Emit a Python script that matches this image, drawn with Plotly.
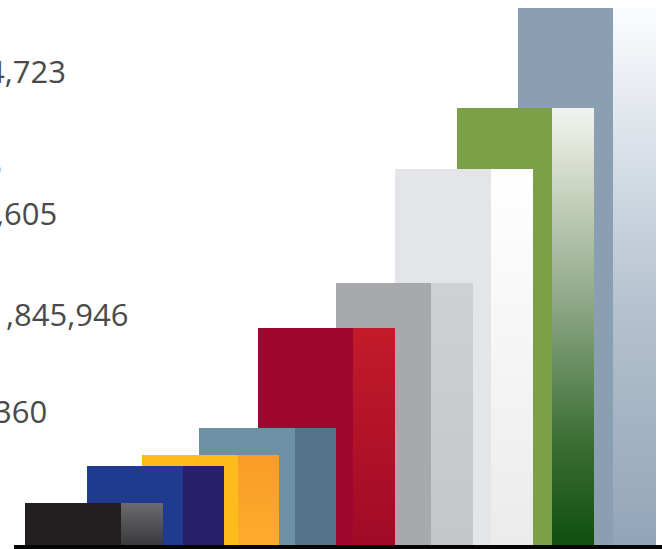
import plotly.graph_objects as go

# Bar heights, smallest to tallest
values = [42, 79, 90, 117, 217, 262, 376, 437, 537]
value_labels = ["4,723", "6", ",605", ",845,946", "360"]

# Geometry of each column: left edge of the front face, shared face widths
column_left = [25, 87, 142, 199, 258, 336, 395, 457, 518]
front_width = [96, 96, 96, 96, 95, 95, 96, 95, 95]
side_width = [42, 41, 41, 41, 42, 42, 42, 42, 43]

front_colors = ["#231f20", "#1f3a8e", "#fdbb1c", "#6f8fa5", "#9f0630",
                "#a7a9ad", "#e3e5e8", "#7ba045", "#8b9fb3"]
side_gradients = [
    [(0, "#3a3a3c"), (1, "#6b6b6d")],
    [(0, "#272068"), (1, "#272068")],
    [(0, "#fdab2e"), (1, "#fa9c26")],
    [(0, "#55748b"), (1, "#55748b")],
    [(0, "#a10a26"), (1, "#c21b2b")],
    [(0, "#c3c7ca"), (1, "#ced1d4")],
    [(0, "#ebebeb"), (1, "#ffffff")],
    [(0, "#0f4f10"), (0.25, "#3f7038"), (0.56, "#8fa988"), (0.79, "#c5d0bb"), (1, "#f2f4ef")],
    [(0, "#92a5b8"), (0.45, "#b5c2cf"), (1, "#fbfcfe")],
]

PAGE_W, PAGE_H = 662, 549
BASELINE_DEPTH = 4

fig = go.Figure()

# Tallest column goes down first so each shorter one sits in front of it
for i in reversed(range(len(values))):
    left = column_left[i]
    split = left + front_width[i]
    right = split + side_width[i]
    layer = (len(values) - i) * 2
    fig.add_trace(go.Bar(
        x=[left + front_width[i] / 2], y=[values[i]], width=[front_width[i]],
        marker=dict(color=front_colors[i], line=dict(width=0)),
        zorder=layer, showlegend=False, hoverinfo="skip",
    ))
    fig.add_trace(go.Scatter(
        x=[split, right, right, split, split],
        y=[0, 0, values[i], values[i], 0],
        mode="lines", line=dict(width=0), fill="toself",
        fillgradient=dict(type="vertical", colorscale=side_gradients[i]),
        zorder=layer + 1, showlegend=False, hoverinfo="skip",
    ))

# Value labels run off the left edge of the page
label_right = [68, 4, 59, 130, 49]
label_mid = [71, 165, 213, 314, 411]
annotations = [
    dict(text=t, xref="x", yref="y", x=r, y=PAGE_H - BASELINE_DEPTH - m,
         xanchor="right", yanchor="middle", showarrow=False,
         font=dict(family="Open Sans", size=31, color="#4a4a4a"))
    for t, r, m in zip(value_labels, label_right, label_mid)
]

fig.update_layout(
    width=PAGE_W, height=PAGE_H,
    margin=dict(l=0, r=0, t=0, b=0, autoexpand=False),
    paper_bgcolor="#ffffff", plot_bgcolor="#ffffff",
    barmode="overlay", bargap=0,
    xaxis=dict(range=[0, PAGE_W], visible=False, fixedrange=True),
    yaxis=dict(range=[-BASELINE_DEPTH, PAGE_H - BASELINE_DEPTH], visible=False, fixedrange=True),
    annotations=annotations,
    shapes=[dict(type="rect", xref="x", yref="y", x0=14, x1=PAGE_W,
                 y0=-BASELINE_DEPTH, y1=0, fillcolor="#050505",
                 line=dict(width=0), layer="above")],
)

fig.write_html("out.html", config=dict(displayModeBar=False))
